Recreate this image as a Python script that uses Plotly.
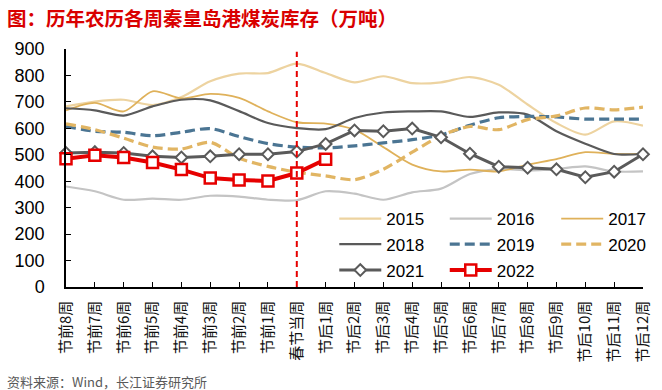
import plotly.graph_objects as go

categories = ["节前8周", "节前7周", "节前6周", "节前5周", "节前4周", "节前3周", "节前2周", "节前1周",
              "春节当周", "节后1周", "节后2周", "节后3周", "节后4周", "节后5周", "节后6周", "节后7周",
              "节后8周", "节后9周", "节后10周", "节后11周", "节后12周"]

y2015 = [683, 701, 708, 688, 718, 778, 807, 809, 845, 809, 774, 797, 771, 774, 794, 765, 690, 620, 576, 626, 610]
y2016 = [380, 362, 330, 334, 330, 345, 342, 330, 328, 362, 353, 330, 358, 372, 427, 446, 441, 446, 456, 437, 437]
y2017 = [668, 696, 664, 740, 713, 730, 715, 664, 623, 618, 595, 529, 463, 437, 444, 437, 463, 484, 510, 503, 503]
y2018 = [676, 668, 648, 683, 708, 706, 665, 620, 601, 597, 639, 660, 664, 664, 643, 660, 652, 589, 542, 503, 503]
y2019 = [607, 589, 585, 572, 585, 599, 569, 542, 529, 526, 534, 545, 557, 575, 612, 640, 645, 643, 635, 635, 635]
y2020 = [617, 595, 563, 529, 522, 547, 487, 456, 434, 420, 406, 445, 510, 572, 607, 595, 633, 647, 677, 670, 680]
y2021 = [507, 510, 507, 494, 490, 494, 502, 502, 512, 541, 592, 589, 599, 566, 504, 455, 451, 445, 415, 436, 502]
y2022 = [485, 498, 490, 471, 444, 412, 405, 401, 431, 483]

festival_week = "春节当周"
y_ticks = [0, 100, 200, 300, 400, 500, 600, 700, 800, 900]

# plot area geometry (px)
L, R, T, B = 66, 11, 49, 103
PW, PH = 662 - L - R, 390 - T - B

fig = go.Figure()

# legend slots: column left edges and row centres (px)
col_x = [343, 455, 568]
row_y = [219, 244.5, 270.5]
slots = [(c, r) for r in row_y for c in col_x]
legend_names = ["legend"] + ["legend%d" % i for i in range(2, 9)]

def smooth(name, y, color, width, idx, dash="solid"):
    fig.add_trace(go.Scatter(
        x=categories, y=y, name=name, mode="lines",
        line=dict(color=color, width=width, dash=dash, shape="spline", smoothing=0.8),
        legend=legend_names[idx], hoverinfo="skip"))

smooth("2015", y2015, "#EDD3A0", 2.2, 0)
smooth("2016", y2016, "#C4C4C4", 2.2, 1)
smooth("2017", y2017, "#DFB15A", 1.8, 2)
smooth("2018", y2018, "#5A5A5A", 2.2, 3)
smooth("2019", y2019, "#4B7593", 3.2, 4, dash="10px,5px")
smooth("2020", y2020, "#E1B563", 3.2, 5, dash="10px,5px")

fig.add_trace(go.Scatter(
    x=categories, y=y2021, name="2021", mode="lines+markers",
    line=dict(color="#5A5A5A", width=3),
    marker=dict(symbol="diamond", size=9, color="white", line=dict(color="#5A5A5A", width=2)),
    cliponaxis=False, legend=legend_names[6], hoverinfo="skip"))
fig.add_trace(go.Scatter(
    x=categories[:len(y2022)], y=y2022, name="2022", mode="lines+markers",
    line=dict(color="#E60000", width=4),
    marker=dict(symbol="square", size=11, color="white", line=dict(color="#E60000", width=2.5)),
    cliponaxis=False, legend=legend_names[7], hoverinfo="skip"))

fig.add_shape(type="line", xref="x", yref="y", x0=festival_week, x1=festival_week, y0=0, y1=890,
              line=dict(color="#E60000", width=2, dash="6px,4px"), layer="above")

legend_common = dict(orientation="h", xanchor="left", yanchor="middle", bgcolor="rgba(0,0,0,0)",
                     font=dict(family="Liberation Sans, Arial", size=17, color="#000000"),
                     itemwidth=42, borderwidth=0)
legend_layout = {}
for name, (cx, cy) in zip(legend_names, slots):
    legend_layout[name] = dict(x=(cx - 5 - L) / PW, y=(390 - B - cy) / PH, **legend_common)
fig.update_layout(**legend_layout)

fig.update_layout(
    width=662, height=390,
    margin=dict(l=L, r=R, t=T, b=B),
    paper_bgcolor="white", plot_bgcolor="white",
    showlegend=True,
    font=dict(family="Liberation Sans, Arial", color="#000000"),
    xaxis=dict(type="category", categoryorder="array", categoryarray=categories,
               range=[0, len(categories) - 1], showgrid=False, zeroline=False,
               showline=True, linecolor="#000000", linewidth=1.5,
               ticks="inside", ticklen=5, tickcolor="#000000", tickwidth=1,
               ticklabelstandoff=6,
               tickangle=-90, tickfont=dict(family="Noto Sans CJK SC", size=15, color="#111111")),
    yaxis=dict(range=[0, 900], tickvals=y_ticks, showgrid=False, zeroline=False,
               showline=True, linecolor="#000000", linewidth=1.5,
               ticks="inside", ticklen=5, tickcolor="#000000", tickwidth=1,
               ticklabelstandoff=16,
               tickfont=dict(family="Liberation Sans, Arial", size=18, color="#000000")),
    annotations=[
        dict(text="<b>图：历年农历各周秦皇岛港煤炭库存（万吨）</b>", xref="paper", yref="paper",
             x=(4 - L) / PW, y=(390 - B - 17.5) / PH, xanchor="left", yanchor="middle", showarrow=False,
             font=dict(family="Noto Sans CJK SC", size=19.5, color="#D90000")),
        dict(text="资料来源：Wind，长江证券研究所", xref="paper", yref="paper",
             x=(4 - L) / PW, y=(390 - B - 381) / PH, xanchor="left", yanchor="middle", showarrow=False,
             font=dict(family="Noto Sans CJK SC", size=13, color="#595959")),
    ],
)

fig.write_html("out.html", config={"displayModeBar": False},
               post_script="document.body.style.margin='0';document.body.style.padding='0';")
